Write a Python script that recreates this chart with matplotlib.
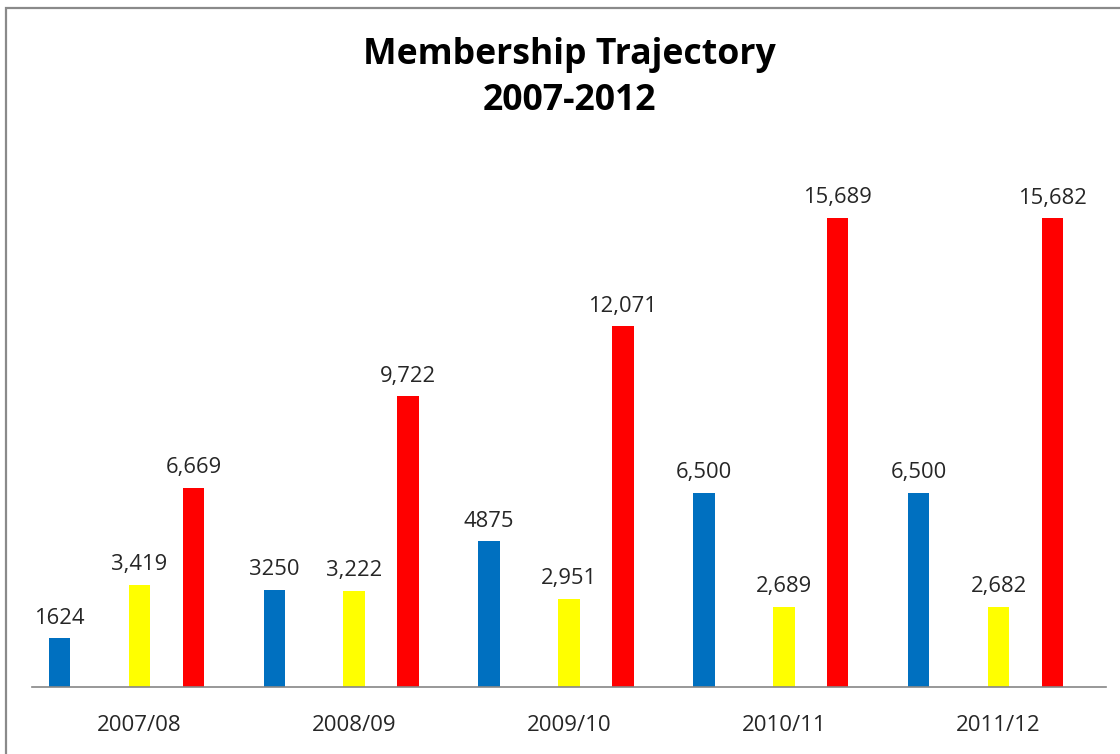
import matplotlib
matplotlib.use("Agg")
import matplotlib.pyplot as plt
import matplotlib.patches as mpatches
import numpy as np

categories = ["2007/08", "2008/09", "2009/10", "2010/11", "2011/12"]
blue_vals = [1624, 3250, 4875, 6500, 6500]
yellow_vals = [3419, 3222, 2951, 2689, 2682]
red_vals = [6669, 9722, 12071, 15689, 15682]
blue_labels = ["1624", "3250", "4875", "6,500", "6,500"]
yellow_labels = ["3,419", "3,222", "2,951", "2,689", "2,682"]
red_labels = ["6,669", "9,722", "12,071", "15,689", "15,682"]

plt.rcParams['font.family'] = ['Open Sans', 'DejaVu Sans']

W, H = 1120, 754
fig = plt.figure(figsize=(W / 100, H / 100), dpi=100)
fig.patch.set_facecolor("white")

ax = fig.add_axes([32 / W, 67 / H, (1106 - 32) / W, (687 - 150) / H])
x = np.arange(len(categories))
bw = 0.1
series = [
    (blue_vals, blue_labels, "#0070C0", -0.372),
    (yellow_vals, yellow_labels, "#FFFF00", 0.0),
    (red_vals, red_labels, "#FF0000", 0.251),
]
for vals, labs, col, off in series:
    bars = ax.bar(x + off, vals, width=bw, color=col, zorder=2)
    for b, lab in zip(bars, labs):
        ax.annotate(lab, (b.get_x() + b.get_width() / 2, b.get_height()),
                    xytext=(0, 14.5), textcoords="offset points",
                    ha="center", va="center", fontsize=15.8, color="#262626")

ax.set_xlim(-0.5, len(categories) - 0.5)
ax.set_ylim(0, (687 - 150) / 0.02989)
ax.set_yticks([])
ax.set_xticks(x)
ax.set_xticklabels(categories, fontsize=16, color="#262626")
ax.tick_params(axis="x", length=0, pad=20)
for s in ["top", "right", "left"]:
    ax.spines[s].set_visible(False)
ax.spines["bottom"].set_color("#868686")
ax.spines["bottom"].set_linewidth(1.2)
ax.set_facecolor("none")

fig.text(569 / W, 1 - 78 / H, "Membership Trajectory\n2007-2012", ha="center",
         va="center", fontsize=25.7, fontweight="bold", color="black",
         linespacing=1.38)

rect = mpatches.Rectangle((6 / W, -0.1), 1.2, 1.1 - 8 / H, transform=fig.transFigure,
                          fill=False, edgecolor="#8a8a8a", linewidth=1.6, zorder=10)
fig.patches.append(rect)

fig.savefig("out.png", dpi=100)
